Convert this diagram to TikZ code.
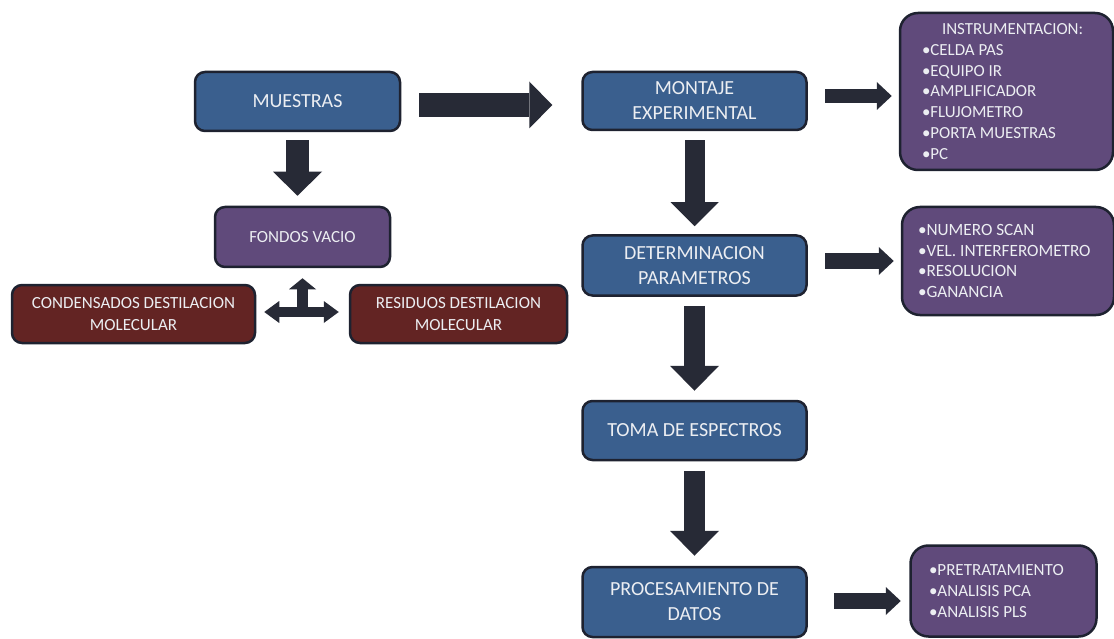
\documentclass[tikz,border=0pt]{standalone}
\usepackage{fontspec}
\setmainfont{Carlito}
\frenchspacing
\usetikzlibrary{arrows.meta,calc}
\definecolor{bluefill}{HTML}{3A5F8E}
\definecolor{purplefill}{HTML}{604A7B}
\definecolor{redfill}{HTML}{632423}
\definecolor{edgecol}{HTML}{1E2230}
\definecolor{arrcol}{HTML}{272A36}
\definecolor{txtcol}{HTML}{ECEEF2}
\tikzset{
  box/.style={draw=edgecol, line width=2.5pt, rounded corners=10pt, text=txtcol, align=center, inner sep=0pt},
  bluebox/.style={box, fill=bluefill, minimum width=224pt, font=\fontsize{20}{25}\selectfont},
  redbox/.style={box, fill=redfill, minimum height=58pt, font=\fontsize{17}{21.5}\selectfont},
  listbox/.style={box, fill=purplefill, rounded corners=18pt, align=flush left, font=\fontsize{17}{20.7}\selectfont},
  fatarrow/.style={draw=arrcol, line width=22pt, -{Triangle[width=48pt,length=24pt,line width=0pt]}},
  midarrow/.style={draw=arrcol, line width=15pt, -{Triangle[width=28pt,length=15pt,line width=0pt]}},
  twoway/.style={draw=arrcol, line width=10pt, {Triangle[width=22pt,length=15pt,line width=0pt]}-{Triangle[width=22pt,length=15pt,line width=0pt]}},
  uparrow/.style={draw=arrcol, line width=11pt, -{Triangle[width=27pt,length=11pt,line width=0pt]}}
}
\begin{document}
\begin{tikzpicture}[x=1pt,y=-1pt]
\useasboundingbox[fill=white] (0,0) rectangle (1114,639);
% main boxes
\node[bluebox, minimum width=205pt, minimum height=59pt] (mues) at (297.5,101.5) {MUESTRAS};
\node[bluebox, minimum height=58pt] (mont) at (694.5,101) {MONTAJE\\EXPERIMENTAL};
\node[bluebox, minimum height=60pt] (det) at (694.5,265.5) {DETERMINACION\\PARAMETROS};
\node[bluebox, minimum height=59pt] (toma) at (694.5,430.5) {TOMA DE ESPECTROS};
\node[bluebox, minimum height=70pt] (proc) at (694.5,602) {PROCESAMIENTO DE\\DATOS};
% left boxes
\node[box, fill=purplefill, minimum width=175pt, minimum height=60pt, font=\fontsize{17}{21.5}\selectfont] (fond) at (302.5,237) {FONDOS VACIO};
\node[redbox, minimum width=243pt] (cond) at (133.5,314) {CONDENSADOS DESTILACION\\MOLECULAR};
\node[redbox, minimum width=217pt] (resid) at (458.5,314) {RESIDUOS DESTILACION\\MOLECULAR};
% list boxes
\node[listbox, minimum width=213pt, minimum height=157pt, text width=169pt, font=\fontsize{16.9}{20.7}\selectfont] (inst) at (1006.5,91.5)
  {\hspace*{20pt}INSTRUMENTACION:\\•CELDA PAS\\•EQUIPO IR\\•AMPLIFICADOR\\•FLUJOMETRO\\•PORTA MUESTRAS\\•PC};
\node[listbox, minimum width=212pt, minimum height=108pt, text width=180pt, font=\fontsize{17.2}{20.7}\selectfont] (param) at (1008,261)
  {•NUMERO SCAN\\•VEL. INTERFEROMETRO\\•RESOLUCION\\•GANANCIA};
\node[listbox, minimum width=186pt, minimum height=91pt, text width=149pt] (plist) at (1003.5,591)
  {•PRETRATAMIENTO\\•ANALISIS PCA\\•ANALISIS PLS};
% arrows
\draw[fatarrow, line width=24pt, -{Triangle[width=47pt,length=23pt,line width=0pt]}]
  ([xshift=18pt,yshift=-3.5pt]mues.east) -- ([xshift=-29pt,yshift=-4pt]mont.west);
\draw[fatarrow, line width=23pt, -{Triangle[width=49pt,length=24pt,line width=0pt]}]
  ([yshift=-8pt]mues.south) -- ([yshift=10pt]mues.south |- fond.north);
\draw[fatarrow, line width=20pt] ([yshift=-9pt]mont.south) -- ([yshift=8pt]det.north);
\draw[fatarrow, line width=21pt, -{Triangle[width=49pt,length=25pt,line width=0pt]}]
  ([yshift=-9pt]det.south) -- ([yshift=9pt]toma.north);
\draw[fatarrow, line width=21pt, -{Triangle[width=49pt,length=25pt,line width=0pt]}]
  ([yshift=-9.5pt]toma.south) -- ([yshift=10pt]proc.north);
\draw[midarrow, line width=14pt] ([xshift=17.5pt,yshift=5pt]mont.east) -- ([xshift=-7pt,yshift=-4.5pt]inst.west);
\draw[midarrow, line width=16pt] ([xshift=17.5pt,yshift=4.5pt]det.east) -- ([xshift=-7pt]param.west);
\draw[midarrow, line width=16pt] ([xshift=26.5pt,yshift=1pt]proc.east) -- ([xshift=-8.5pt,yshift=-10pt]plist.west);
% two-way and up arrow
\coordinate (tmid) at ($([yshift=2pt]cond.east)!0.5!([yshift=2pt]resid.west)$);
\draw[uparrow] (tmid) -- ([yshift=-10pt]fond.south);
\draw[twoway] ([xshift=8pt,yshift=2pt]cond.east) -- ([xshift=-10pt,yshift=2pt]resid.west);
\end{tikzpicture}
\end{document}
